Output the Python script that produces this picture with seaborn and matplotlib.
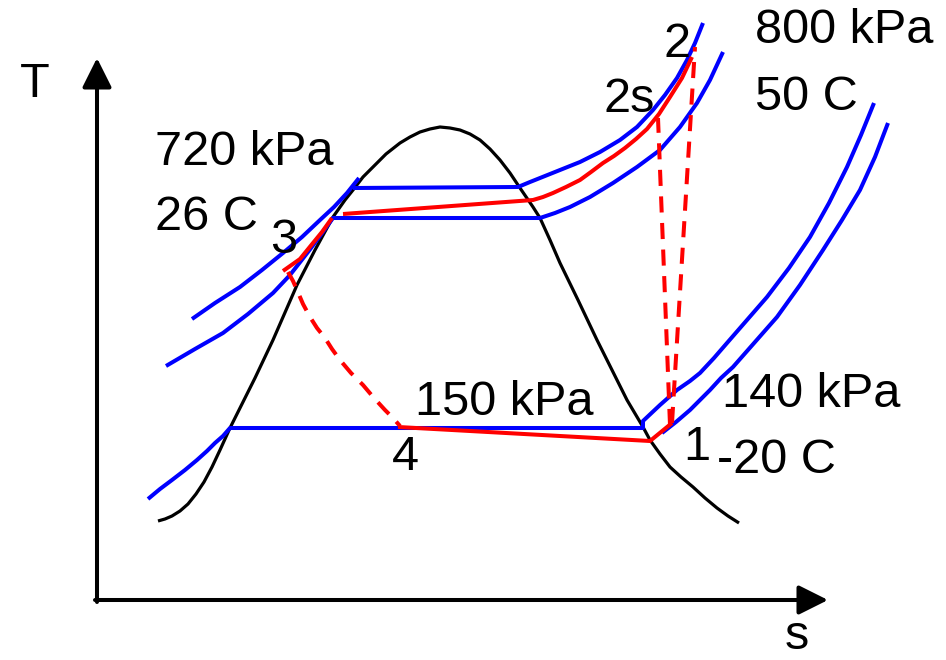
import matplotlib
matplotlib.use("Agg")
import matplotlib.pyplot as plt
import seaborn as sns

# T-s diagram of a refrigeration cycle (pixel units)

# saturation dome
dome_s = [158, 165, 172, 180, 188, 196, 204, 212, 220, 230, 255, 273, 297, 315, 333, 345,
          353, 363, 373, 386, 400, 410, 420, 430, 440, 450, 460, 470, 480, 490, 500, 510,
          520, 533, 540, 550, 560, 578, 597, 612, 627, 643, 650, 660, 670, 681, 693, 705,
          717, 728, 739]
dome_T = [521, 519, 516, 511, 504, 494, 482, 467, 450, 428, 378, 340, 285, 250, 217, 200,
          190, 177, 167, 154, 143, 137, 132, 129, 127, 128, 130, 134, 140, 149, 160, 173,
          188, 207, 218, 240, 263, 300, 340, 370, 400, 427, 440, 454, 467, 477, 487, 498,
          508, 516, 523]

# 800 kPa isobar (upper): liquid part, then saturation line and vapour part
p800l_s = [192, 215, 240, 262, 283, 302, 320, 334, 347, 359]
p800l_T = [319, 303, 287, 270, 253, 237, 220, 207, 193, 178]
p800v_s = [353, 518, 530, 545, 560, 580, 600, 620, 637, 653, 665, 677, 687, 695, 703]
p800v_T = [188, 187, 182, 176, 170, 162, 152, 140, 127, 110, 95, 78, 60, 43, 23]

# 720 kPa isobar (lower)
p720_s = [166, 195, 223, 248, 273, 290, 308, 320, 333, 540, 555, 570, 590, 613, 637, 660,
          680, 697, 710, 723]
p720_T = [366, 349, 333, 314, 293, 275, 252, 236, 218, 218, 213, 207, 197, 183, 167, 150,
          127, 103, 80, 52]

# 150 kPa isobar
p150_s = [148, 160, 172, 185, 197, 207, 215, 223, 230, 643, 643, 660, 677, 690, 700, 714,
          727, 747, 767, 789, 810, 829, 847, 861, 874]
p150_T = [499, 489, 480, 470, 460, 451, 443, 436, 428, 428, 421, 405, 390, 381, 373, 358,
          343, 320, 297, 268, 237, 203, 167, 135, 103]

# 140 kPa isobar
p140_s = [662, 676, 690, 700, 710, 721, 733, 755, 777, 800, 823, 842, 860, 875, 888]
p140_T = [433, 422, 410, 400, 390, 378, 367, 342, 317, 285, 250, 220, 190, 157, 123]

# actual cycle, solid parts
evap_s = [398, 650, 672]
evap_T = [427, 441, 423]
cond_s = [692, 682, 670, 659, 647, 636, 625, 614, 603, 591, 580, 566, 553, 543, 533, 343]
cond_T = [57, 78, 97, 114, 129, 139, 148, 156, 163, 172, 180, 187, 193, 197, 200, 214]
sub_s = [332, 322, 313, 300, 283]
sub_T = [218, 232, 243, 259, 271]

# dashed parts: compression (isentropic + actual) and throttling
comp_s_s = [670, 658]
comp_s_T = [425, 118]
comp_a_s = [672, 695]
comp_a_T = [423, 47]
thr_s = [288, 293, 297, 303, 310, 317, 325, 332, 340, 351, 363, 374, 385, 393, 400]
thr_T = [272, 281, 290, 304, 317, 328, 338, 349, 360, 373, 385, 398, 410, 418, 426]

labels = ["T", "s", "720 kPa", "26 C", "800 kPa", "50 C", "150 kPa", "140 kPa", "-20 C",
          "1", "2", "2s", "3", "4"]
label_s = [20, 785, 155, 155, 755, 755, 415, 722, 717, 683, 663, 603, 270, 392]
label_T = [97, 649, 165, 230, 43, 110, 415, 407, 473, 460, 57, 112, 253, 470]

sns.set_style("white")
plt.rcParams["font.family"] = ["Liberation Sans", "DejaVu Sans"]

fig = plt.figure(figsize=(9.46, 6.6), dpi=100)
ax = fig.add_axes([0, 0, 1, 1])
ax.set_xlim(0, 946)
ax.set_ylim(660, 0)
ax.axis("off")

BLUE = "#0000ff"
RED = "#ff0000"

def curve(s, T, color, lw, **kw):
    sns.lineplot(x=s, y=T, sort=False, estimator=None, color=color, lw=lw,
                 ax=ax, solid_joinstyle="round", solid_capstyle="butt", **kw)

curve(dome_s, dome_T, "black", 2.3)
for s, T in [(p800l_s, p800l_T), (p800v_s, p800v_T), (p720_s, p720_T),
             (p150_s, p150_T), (p140_s, p140_T)]:
    curve(s, T, BLUE, 2.9)
for s, T in [(evap_s, evap_T), (cond_s, cond_T), (sub_s, sub_T)]:
    curve(s, T, RED, 2.9)
for s, T in [(comp_s_s, comp_s_T), (comp_a_s, comp_a_T), (thr_s, thr_T)]:
    curve(s, T, RED, 2.9, linestyle=(0, (4, 2.6)))

# axes arrows
arrow = dict(arrowstyle="-|>", lw=2.9, color="black", mutation_scale=45,
             shrinkA=0, shrinkB=0)
ax.annotate("", xy=(97, 58), xytext=(97, 602), arrowprops=arrow)
ax.annotate("", xy=(828, 600), xytext=(95, 600), arrowprops=arrow)

for txt, x, y in zip(labels, label_s, label_T):
    ax.text(x, y, txt, fontsize=35, ha="left", va="baseline", color="black")

fig.savefig("out.png", dpi=100)
